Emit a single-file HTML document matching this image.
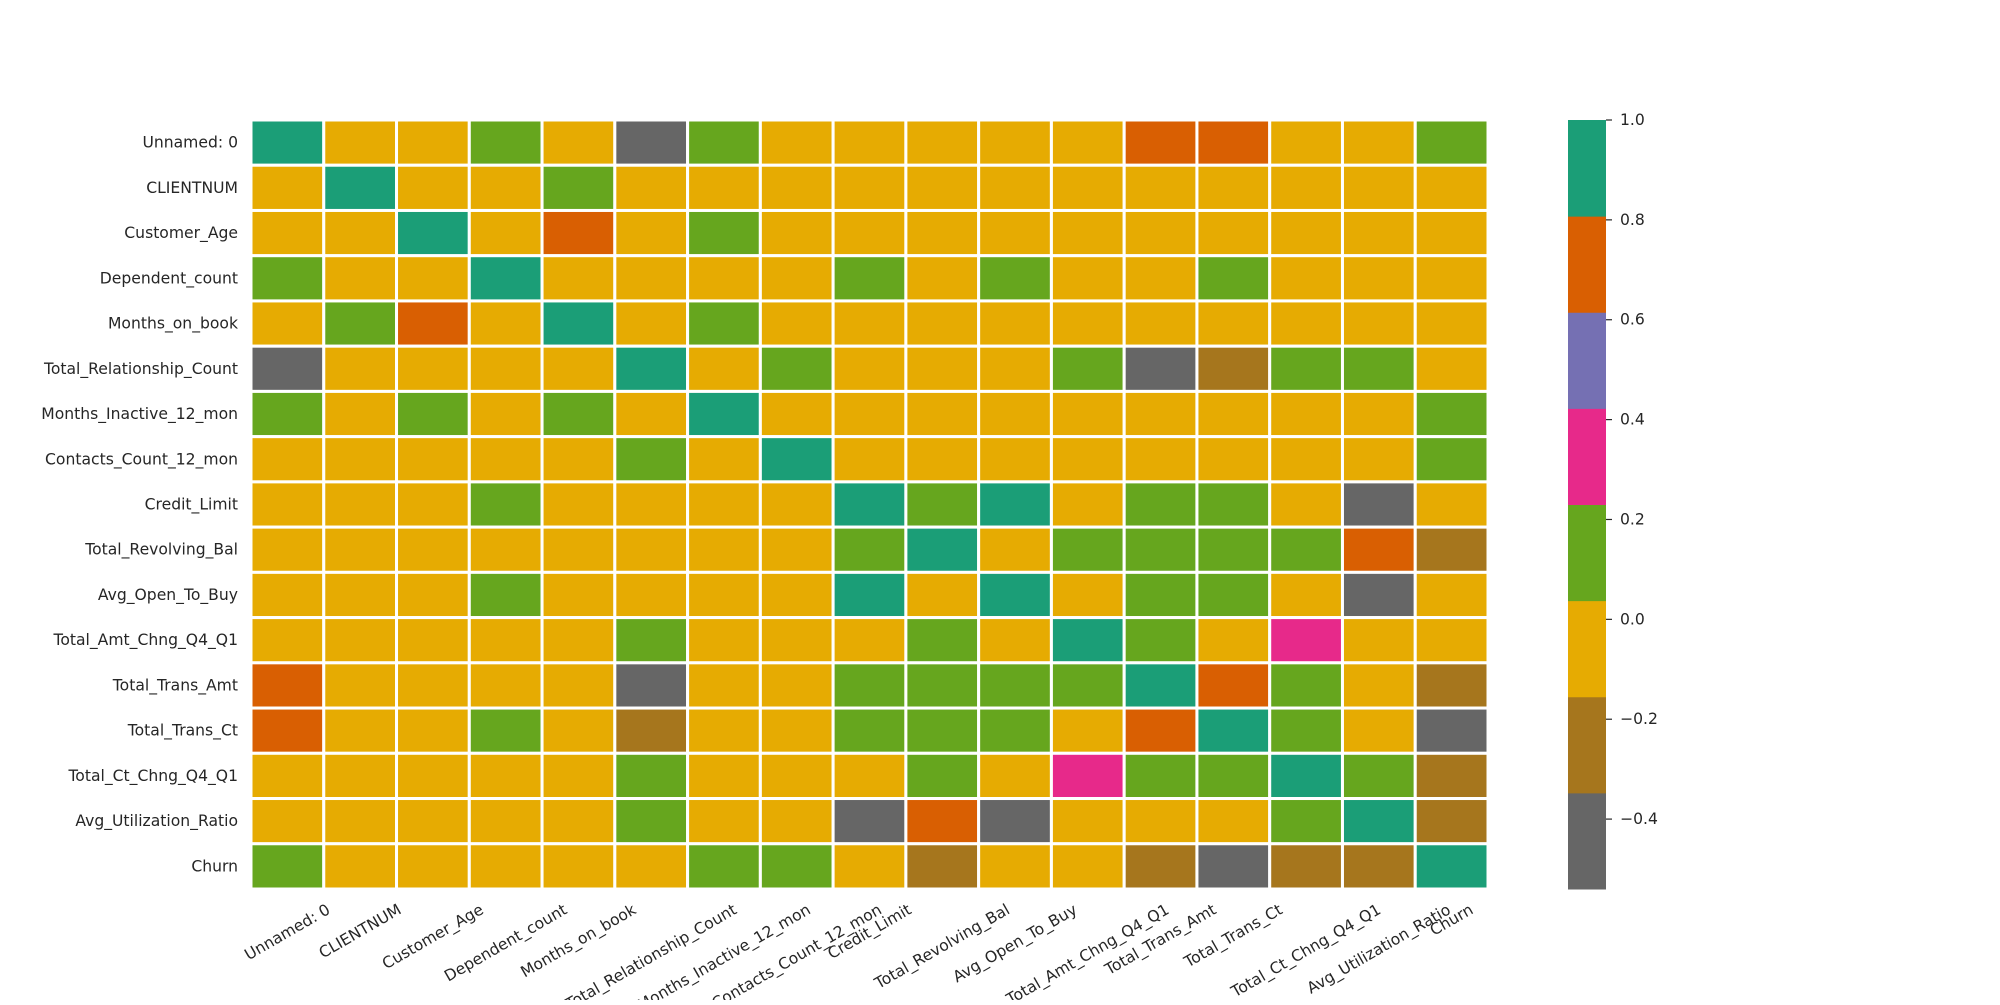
<!DOCTYPE html>
<html><head><meta charset="utf-8"><style>
html,body{margin:0;padding:0;background:#fff;}
svg text{font-family:"DejaVu Sans","Liberation Sans",sans-serif;fill:#262626;}
</style></head><body>
<svg id="chart" width="2000" height="1000" xmlns="http://www.w3.org/2000/svg"></svg>
<script>
const labels = ["Unnamed: 0","CLIENTNUM","Customer_Age","Dependent_count","Months_on_book","Total_Relationship_Count","Months_Inactive_12_mon","Contacts_Count_12_mon","Credit_Limit","Total_Revolving_Bal","Avg_Open_To_Buy","Total_Amt_Chng_Q4_Q1","Total_Trans_Amt","Total_Trans_Ct","Total_Ct_Chng_Q4_Q1","Avg_Utilization_Ratio","Churn"];
const corr = [
[1.00,-0.02,0.01,0.08,0.00,-0.45,0.10,-0.01,0.00,0.00,0.00,-0.04,0.72,0.70,0.00,-0.05,0.12],
[-0.02,1.00,0.01,0.01,0.13,0.01,0.01,0.01,0.01,0.00,0.01,0.02,-0.02,-0.00,0.01,-0.00,-0.05],
[0.01,0.01,1.00,-0.12,0.79,-0.01,0.05,-0.02,0.00,0.01,0.00,-0.06,-0.05,-0.07,-0.01,0.01,0.02],
[0.08,0.01,-0.12,1.00,-0.10,-0.04,-0.01,-0.04,0.07,-0.00,0.07,-0.04,0.03,0.05,0.01,-0.04,0.02],
[0.00,0.13,0.79,-0.10,1.00,-0.01,0.07,-0.01,0.01,0.01,0.01,-0.05,-0.04,-0.05,-0.01,-0.01,0.01],
[-0.45,0.01,-0.01,-0.04,-0.01,1.00,-0.00,0.06,-0.07,0.01,-0.07,0.05,-0.36,-0.24,0.04,0.07,-0.15],
[0.10,0.01,0.05,-0.01,0.07,-0.00,1.00,0.03,-0.02,-0.04,-0.02,-0.03,-0.04,-0.04,-0.04,-0.01,0.15],
[-0.01,0.01,-0.02,-0.04,-0.01,0.06,0.03,1.00,0.02,-0.05,0.03,-0.02,-0.11,-0.15,-0.09,-0.06,0.20],
[0.00,0.01,0.00,0.07,0.01,-0.07,-0.02,0.02,1.00,0.04,0.996,0.01,0.17,0.08,-0.00,-0.48,-0.02],
[0.00,0.00,0.01,-0.00,0.01,0.01,-0.04,-0.05,0.04,1.00,-0.05,0.06,0.06,0.06,0.09,0.62,-0.26],
[0.00,0.01,0.00,0.07,0.01,-0.07,-0.02,0.03,0.996,-0.05,1.00,0.01,0.17,0.07,-0.01,-0.54,-0.00],
[-0.04,0.02,-0.06,-0.04,-0.05,0.05,-0.03,-0.02,0.01,0.06,0.01,1.00,0.04,0.01,0.38,-0.04,-0.13],
[0.72,-0.02,-0.05,0.03,-0.04,-0.36,-0.04,-0.11,0.17,0.06,0.17,0.04,1.00,0.78,0.09,-0.08,-0.17],
[0.70,-0.00,-0.07,0.05,-0.05,-0.24,-0.04,-0.15,0.08,0.06,0.07,0.01,0.78,1.00,0.11,0.00,-0.37],
[0.00,0.01,-0.01,0.01,-0.01,0.04,-0.04,-0.09,-0.00,0.09,-0.01,0.38,0.09,0.11,1.00,0.07,-0.29],
[-0.05,-0.00,0.01,-0.04,-0.01,0.07,-0.01,-0.06,-0.48,0.62,-0.54,-0.04,-0.08,0.00,0.07,1.00,-0.18],
[0.12,-0.05,0.02,0.02,0.01,-0.15,0.15,0.20,-0.02,-0.26,-0.00,-0.13,-0.17,-0.37,-0.29,-0.18,1.00]
];
const cbTicks = [1.0,0.8,0.6,0.4,0.2,0.0,-0.2,-0.4];
const cbTickLabels = ["1.0","0.8","0.6","0.4","0.2","0.0","\u22120.2","\u22120.4"];

const NS="http://www.w3.org/2000/svg";
const svg=document.getElementById('chart');
const colors=["#666666","#a6761d","#e6ab02","#66a61e","#e7298a","#7570b3","#d95f02","#1b9e77"];
const vmin=-0.54, vmax=1.0;
const X0=251,X1=1488,Y0=120,Y1=889;
const FS=15.6;
const n=labels.length, cw=(X1-X0)/n, ch=(Y1-Y0)/n;
function colorOf(v){let k=Math.floor((v-vmin)/(vmax-vmin)*8);k=Math.max(0,Math.min(7,k));return colors[k];}
function mk(tag,attrs){const e=document.createElementNS(NS,tag);for(const k in attrs)e.setAttribute(k,attrs[k]);svg.appendChild(e);return e;}
for(let r=0;r<n;r++)for(let c=0;c<n;c++){
  const e=mk('rect',{x:X0+c*cw,y:Y0+r*ch,width:cw,height:ch,fill:colorOf(corr[r][c]),stroke:'#fff','stroke-width':3});
  
  
}
for(let i=0;i<n;i++){
  const t=mk('text',{x:238,y:Y0+(i+0.5)*ch,'text-anchor':'end','dominant-baseline':'central','font-size':FS});
  t.textContent=labels[i];
  
  
  const cx=X0+(i+0.5)*cw;
  const u=mk('text',{'text-anchor':'middle','dominant-baseline':'central','font-size':FS});
  u.textContent=labels[i];
  
  
  const L=u.getComputedTextLength();
  const h=L*0.5+17*0.866;
  u.setAttribute('transform',`translate(${cx},${901+h/2}) rotate(-30)`);
}
const CX0=1568,CX1=1606;
function cy(v){return Y0+(vmax-v)/(vmax-vmin)*(Y1-Y0);}
for(let k=0;k<8;k++){
  const lo=vmin+k*(vmax-vmin)/8, hi=vmin+(k+1)*(vmax-vmin)/8;
  const e=mk('rect',{x:CX0,y:cy(hi),width:CX1-CX0,height:cy(lo)-cy(hi)+0.5,fill:colors[k]});
  
  
}
cbTicks.forEach((v,i)=>{
  const l=mk('line',{x1:CX1,x2:CX1+6,y1:cy(v),y2:cy(v),stroke:'#262626','stroke-width':1.2});
  
  
  const t=mk('text',{x:CX1+14,y:cy(v),'dominant-baseline':'central','font-size':FS});
  t.textContent=cbTickLabels[i];
  
  
});
</script>
</body></html>
